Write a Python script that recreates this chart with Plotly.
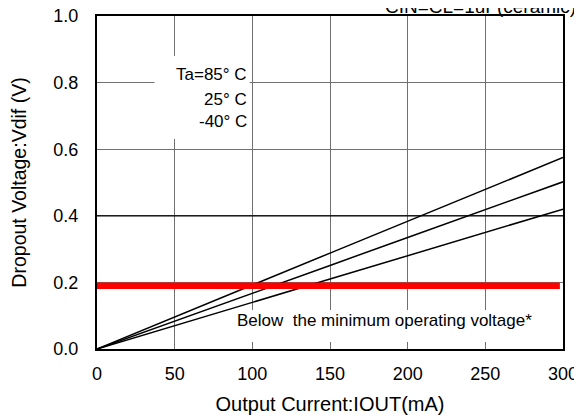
import plotly.graph_objects as go

# Data
iout_ma = [0, 50, 100, 150, 200, 250, 300]
vdif_85c = [0.0, 0.097, 0.192, 0.288, 0.384, 0.480, 0.575]
vdif_25c = [0.0, 0.083, 0.167, 0.251, 0.335, 0.419, 0.502]
vdif_m40c = [0.0, 0.071, 0.140, 0.210, 0.280, 0.350, 0.420]
min_op_x = [0, 298]
min_op_v = [0.19, 0.19]

x_ticks = [0, 50, 100, 150, 200, 250, 300]
y_ticks = [0.0, 0.2, 0.4, 0.6, 0.8, 1.0]
y_tick_text = ["0.0", "0.2", "0.4", "0.6", "0.8", "1.0"]

FONT = "Arial, Liberation Sans, sans-serif"

fig = go.Figure()
for name, ys in [("Ta=85° C", vdif_85c), ("25° C", vdif_25c), ("-40° C", vdif_m40c)]:
    fig.add_trace(go.Scatter(x=iout_ma, y=ys, mode="lines", name=name,
                             line=dict(color="black", width=1.5), showlegend=False))
fig.add_trace(go.Scatter(x=min_op_x, y=min_op_v, mode="lines", name="min",
                         line=dict(color="#ff0000", width=6.5), showlegend=False))

# white boxes behind text, 0.4 darker gridline
fig.add_shape(type="rect", xref="x", yref="y", x0=37, x1=98.3, y0=0.631, y1=0.880,
              fillcolor="white", line=dict(width=0), layer="between")
fig.add_shape(type="rect", xref="x", yref="y", x0=85.4, x1=288, y0=0.021, y1=0.117,
              fillcolor="white", line=dict(width=0), layer="between")
fig.add_shape(type="line", xref="x", yref="y", x0=0, x1=300, y0=0.4, y1=0.4,
              line=dict(color="black", width=1.2), layer="between")

for txt, yy in [("Ta=85° C", 0.823), ("25° C", 0.750), ("-40° C", 0.683)]:
    fig.add_annotation(x=97.6, y=yy, xref="x", yref="y", text=txt, showarrow=False,
                       xanchor="right", yanchor="middle",
                       font=dict(family=FONT, size=17, color="black"))

fig.add_annotation(x=185.4, y=0.086, xref="x", yref="y",
                   text="Below\u00a0 the minimum operating voltage*", showarrow=False,
                   xanchor="center", yanchor="middle",
                   font=dict(family=FONT, size=17, color="black"))

fig.add_annotation(x=1, y=1, xref="paper", yref="paper", text="CIN=CL=1uF(ceramic)",
                   showarrow=False, xanchor="right", yanchor="bottom", xshift=14.5, yshift=-3,
                   font=dict(family=FONT, size=19, color="black"))

# page body adds an 8px offset, so the figure is sized/margined to compensate
fig.update_layout(
    width=574, height=407, autosize=False,
    margin=dict(l=89, r=18.5, t=8, b=66, pad=0, autoexpand=False),
    paper_bgcolor="white", plot_bgcolor="white",
    font=dict(family=FONT, color="black"),
    xaxis=dict(range=[0, 300], tickvals=x_ticks, showgrid=True, gridcolor="#707070",
               gridwidth=1, showline=True, linecolor="black", linewidth=2, mirror=True,
               zeroline=False, ticks="", ticklabelstandoff=7, automargin=False,
               ticklabeloverflow="allow",
               tickfont=dict(size=18, family=FONT),
               title=dict(text="Output Current:IOUT(mA)", font=dict(size=20, family=FONT), standoff=14)),
    yaxis=dict(range=[0, 1.0], tickvals=y_ticks, ticktext=y_tick_text, showgrid=True,
               gridcolor="#707070", gridwidth=1, showline=True, linecolor="black", linewidth=2,
               mirror=True, zeroline=False, ticks="", ticklabelstandoff=13, automargin=False,
               ticklabeloverflow="allow",
               tickfont=dict(size=18, family=FONT),
               title=dict(text="Dropout Voltage:Vdif (V)", font=dict(size=19.5, family=FONT), standoff=23)),
)
fig.write_html("out.html")
